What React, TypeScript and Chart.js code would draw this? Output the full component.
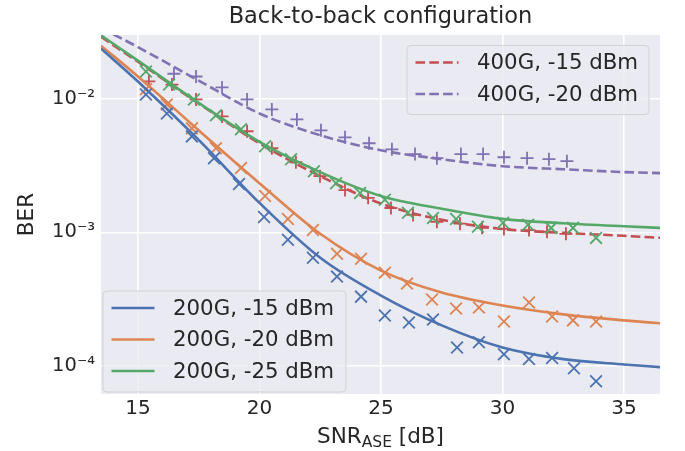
import React, { useEffect, useRef } from "react";
import { Chart, registerables } from "chart.js";
Chart.register(...registerables);

// ---- colours / fonts ----
const BLUE = "#4C72B0";
const ORANGE = "#DD8452";
const GREEN = "#55A868";
const RED = "#C44E52";
const PURPLE = "#8172B3";
const TEXT = "#262626";
const FONT = "'DejaVu Sans', 'Liberation Sans', sans-serif";

// ---- data ----
const TITLE = "Back-to-back configuration";
const Y_LABEL = "BER";

const xTicks = [15, 20, 25, 30, 35];
const yTicks = [1e-4, 1e-3, 1e-2];
const yTickLabels = ["10⁻⁴", "10⁻³", "10⁻²"];

const X_MIN = 13.48;
const X_MAX = 36.48;
const Y_MIN = 6.2e-5;
const Y_MAX = 2.98e-2;

// measured points
const snr200_15 = [15.33, 16.19, 17.22, 18.13, 19.16, 20.19, 21.17, 22.2, 23.19, 24.18, 25.16, 26.15, 27.14, 28.13, 29.03, 30.06, 31.09, 32.04, 32.94, 33.85];
const ber200_15 = [1.07e-2, 7.73e-3, 5.21e-3, 3.58e-3, 2.3e-3, 1.3e-3, 8.8e-4, 6.46e-4, 4.67e-4, 3.31e-4, 2.39e-4, 2.12e-4, 2.23e-4, 1.38e-4, 1.51e-4, 1.23e-4, 1.13e-4, 1.15e-4, 9.66e-5, 7.73e-5];

const snr200_20 = [15.33, 16.19, 17.22, 18.21, 19.24, 20.23, 21.17, 22.2, 23.19, 24.18, 25.16, 26.07, 27.1, 28.09, 29.03, 30.06, 31.09, 32.04, 32.9, 33.85];
const ber200_20 = [1.17e-2, 9.02e-3, 5.98e-3, 4.25e-3, 3.02e-3, 1.87e-3, 1.26e-3, 1.04e-3, 6.92e-4, 6.35e-4, 5.0e-4, 4.14e-4, 3.15e-4, 2.7e-4, 2.75e-4, 2.16e-4, 2.99e-4, 2.35e-4, 2.2e-4, 2.16e-4];

const snr200_25 = [15.33, 16.28, 17.3, 18.21, 19.24, 20.23, 21.3, 22.24, 23.15, 24.14, 25.16, 26.11, 27.14, 28.09, 28.99, 30.02, 31.05, 32.0, 32.9, 33.85];
const ber200_25 = [1.59e-2, 1.27e-2, 9.84e-3, 7.48e-3, 5.88e-3, 4.4e-3, 3.52e-3, 2.86e-3, 2.33e-3, 1.97e-3, 1.75e-3, 1.4e-3, 1.28e-3, 1.26e-3, 1.1e-3, 1.18e-3, 1.14e-3, 1.08e-3, 1.08e-3, 9.09e-4];

const snr400_15 = [15.45, 16.4, 17.39, 18.46, 19.49, 20.51, 21.5, 22.49, 23.52, 24.47, 25.41, 26.32, 27.3, 28.25, 29.16, 30.06, 31.09, 31.83, 32.61];
const ber400_15 = [1.34e-2, 1.27e-2, 9.84e-3, 7.35e-3, 5.69e-3, 4.25e-3, 3.34e-3, 2.63e-3, 2.07e-3, 1.81e-3, 1.52e-3, 1.35e-3, 1.2e-3, 1.16e-3, 1.08e-3, 1.06e-3, 1.04e-3, 1.01e-3, 9.75e-4];

const snr400_20 = [16.48, 17.39, 18.46, 19.49, 20.51, 21.54, 22.53, 23.52, 24.51, 25.45, 26.4, 27.3, 28.29, 29.2, 30.06, 31.01, 31.91, 32.65];
const ber400_20 = [1.53e-2, 1.46e-2, 1.21e-2, 9.84e-3, 8.28e-3, 6.98e-3, 5.78e-3, 5.13e-3, 4.63e-3, 4.17e-3, 3.84e-3, 3.58e-3, 3.84e-3, 3.84e-3, 3.64e-3, 3.58e-3, 3.52e-3, 3.4e-3];

// fitted curves
const fitSNR = [13.48, 15, 17.5, 20, 22.5, 25, 27.5, 30, 32.5, 35, 36.5];
const fit200_15 = [2.36e-2, 1.34e-2, 4.9e-3, 1.66e-3, 6.46e-4, 3.37e-4, 2.02e-4, 1.38e-4, 1.13e-4, 1.03e-4, 9.84e-5];
const fit200_20 = [2.48e-2, 1.46e-2, 5.78e-3, 2.33e-3, 9.75e-4, 5.18e-4, 3.55e-4, 2.84e-4, 2.44e-4, 2.2e-4, 2.09e-4];
const fit200_25 = [2.96e-2, 1.92e-2, 9.26e-3, 4.75e-3, 2.82e-3, 1.87e-3, 1.5e-3, 1.26e-3, 1.17e-3, 1.11e-3, 1.08e-3];
const fit400_15 = [2.89e-2, 1.88e-2, 9.18e-3, 4.63e-3, 2.63e-3, 1.64e-3, 1.24e-3, 1.06e-3, 9.91e-4, 9.42e-4, 9.1e-4];
const fit400_20 = [3.37e-2, 2.42e-2, 1.36e-2, 7.73e-3, 5.31e-3, 4.1e-3, 3.52e-3, 3.12e-3, 2.96e-3, 2.82e-3, 2.77e-3];

const legendA = [
  { label: "400G, -15 dBm", color: RED, dashed: true },
  { label: "400G, -20 dBm", color: PURPLE, dashed: true },
];
const legendB = [
  { label: "200G, -15 dBm", color: BLUE, dashed: false },
  { label: "200G, -20 dBm", color: ORANGE, dashed: false },
  { label: "200G, -25 dBm", color: GREEN, dashed: false },
];

const LW = 2.6;
const DASH = [9.6, 4.2];

const pts = (xs: number[], ys: number[]) => xs.map((x, i) => ({ x, y: ys[i] }));

function lineDs(xs: number[], ys: number[], color: string, dashed: boolean) {
  return {
    type: "scatter" as const,
    data: pts(xs, ys),
    showLine: true,
    borderColor: color,
    backgroundColor: color,
    borderWidth: LW,
    borderDash: dashed ? DASH : [],
    pointRadius: 0,
    pointHoverRadius: 0,
    cubicInterpolationMode: "monotone" as const,
    fill: false,
  };
}
function markDs(xs: number[], ys: number[], color: string, style: string) {
  return {
    type: "scatter" as const,
    data: pts(xs, ys),
    showLine: false,
    borderColor: color,
    backgroundColor: color,
    pointStyle: style,
    pointRadius: style === "cross" ? 6.5 : 8.3,
    pointBorderWidth: 1.8,
    pointHoverRadius: 0,
  };
}

function drawLegend(ctx: CanvasRenderingContext2D, items: any[], left: number, top: number, w: number, h: number) {
  ctx.save();
  const r = 4;
  ctx.beginPath();
  ctx.moveTo(left + r, top);
  ctx.arcTo(left + w, top, left + w, top + h, r);
  ctx.arcTo(left + w, top + h, left, top + h, r);
  ctx.arcTo(left, top + h, left, top, r);
  ctx.arcTo(left, top, left + w, top, r);
  ctx.closePath();
  ctx.fillStyle = "rgba(234,234,242,0.8)";
  ctx.fill();
  ctx.strokeStyle = "rgba(204,204,204,0.8)";
  ctx.lineWidth = 1;
  ctx.stroke();
  ctx.font = `21.3px ${FONT}`;
  ctx.textBaseline = "middle";
  ctx.textAlign = "left";
  items.forEach((it, i) => {
    const y = top + 17 + i * 31.5;
    ctx.beginPath();
    ctx.strokeStyle = it.color;
    ctx.lineWidth = LW;
    ctx.setLineDash(it.dashed ? DASH : []);
    ctx.moveTo(left + 8.5, y);
    ctx.lineTo(left + 51.5, y);
    ctx.stroke();
    ctx.setLineDash([]);
    ctx.fillStyle = TEXT;
    ctx.fillText(it.label, left + 70, y + 1);
  });
  ctx.restore();
}

const decor = {
  id: "decor",
  beforeDraw(chart: any) {
    const { ctx, chartArea: a } = chart;
    ctx.save();
    ctx.fillStyle = "#EAEAF2";
    ctx.fillRect(a.left, a.top, a.right - a.left, a.bottom - a.top);
    ctx.restore();
  },
  afterDraw(chart: any) {
    const { ctx, chartArea: a } = chart;
    const cx = (a.left + a.right) / 2;
    ctx.save();
    ctx.fillStyle = TEXT;
    // title
    ctx.font = `22.5px ${FONT}`;
    ctx.textAlign = "center";
    ctx.textBaseline = "alphabetic";
    ctx.fillText(TITLE, cx, 23);
    // x label with subscript
    const big = `21.5px ${FONT}`;
    const small = `15.5px ${FONT}`;
    ctx.font = big;
    const w1 = ctx.measureText("SNR").width;
    const w3 = ctx.measureText(" [dB]").width;
    ctx.font = small;
    const w2 = ctx.measureText("ASE").width;
    let x0 = cx - (w1 + w2 + w3) / 2;
    const base = a.bottom + 48.5;
    ctx.textAlign = "left";
    ctx.font = big;
    ctx.fillText("SNR", x0, base);
    ctx.font = small;
    ctx.fillText("ASE", x0 + w1, base + 4.5);
    ctx.font = big;
    ctx.fillText(" [dB]", x0 + w1 + w2, base);
    // y label
    ctx.translate(33, (a.top + a.bottom) / 2);
    ctx.rotate(-Math.PI / 2);
    ctx.textAlign = "center";
    ctx.font = big;
    ctx.fillText(Y_LABEL, 0, 0);
    ctx.restore();
    // legends
    drawLegend(ctx, legendA, a.right - 253, a.top + 10.5, 242, 69);
    drawLegend(ctx, legendB, a.left + 2, a.bottom - 103, 243, 101);
  },
};

export default function App() {
  const ref = useRef<HTMLCanvasElement | null>(null);
  useEffect(() => {
    if (!ref.current) return;
    const chart = new Chart(ref.current, {
      type: "scatter",
      data: {
        datasets: [
          markDs(snr200_15, ber200_15, BLUE, "crossRot"),
          lineDs(fitSNR, fit200_15, BLUE, false),
          markDs(snr200_20, ber200_20, ORANGE, "crossRot"),
          lineDs(fitSNR, fit200_20, ORANGE, false),
          markDs(snr200_25, ber200_25, GREEN, "crossRot"),
          lineDs(fitSNR, fit200_25, GREEN, false),
          markDs(snr400_15, ber400_15, RED, "cross"),
          lineDs(fitSNR, fit400_15, RED, true),
          markDs(snr400_20, ber400_20, PURPLE, "cross"),
          lineDs(fitSNR, fit400_20, PURPLE, true),
        ] as any,
      },
      options: {
        responsive: false,
        animation: false,
        devicePixelRatio: 1,
        layout: { padding: { top: 35, right: 25, left: 0, bottom: 0 } },
        plugins: { legend: { display: false }, tooltip: { enabled: false }, title: { display: false } },
        events: [],
        scales: {
          x: {
            type: "linear",
            min: X_MIN,
            max: X_MAX,
            afterBuildTicks: (s: any) => {
              s.ticks = xTicks.map((v) => ({ value: v }));
            },
            afterFit: (s: any) => {
              s.height = 57;
            },
            ticks: {
              color: TEXT,
              font: { family: FONT, size: 20 },
              padding: 3,
              maxRotation: 0,
              autoSkip: false,
              callback: (v: any) => String(v),
            },
            grid: { color: "#ffffff", lineWidth: 1.6, drawTicks: false },
            border: { display: false },
          },
          y: {
            type: "logarithmic",
            min: Y_MIN,
            max: Y_MAX,
            afterBuildTicks: (s: any) => {
              s.ticks = yTicks.map((v) => ({ value: v }));
            },
            afterFit: (s: any) => {
              s.width = 101;
            },
            ticks: {
              color: TEXT,
              font: { family: FONT, size: 19.5 },
              padding: 6,
              autoSkip: false,
              callback: (v: any) => {
                const i = yTicks.findIndex((t) => Math.abs(Math.log10(t) - Math.log10(v)) < 1e-6);
                return i >= 0 ? yTickLabels[i] : "";
              },
            },
            grid: { color: "#ffffff", lineWidth: 1.6, drawTicks: false },
            border: { display: false },
          },
        },
      } as any,
      plugins: [decor],
    });
    return () => chart.destroy();
  }, []);
  return (
    <div style={{ position: "fixed", left: 0, top: 0, width: 685, height: 451, background: "#fff" }}>
      <canvas ref={ref} width={685} height={451} style={{ display: "block", width: 685, height: 451 }} />
    </div>
  );
}
